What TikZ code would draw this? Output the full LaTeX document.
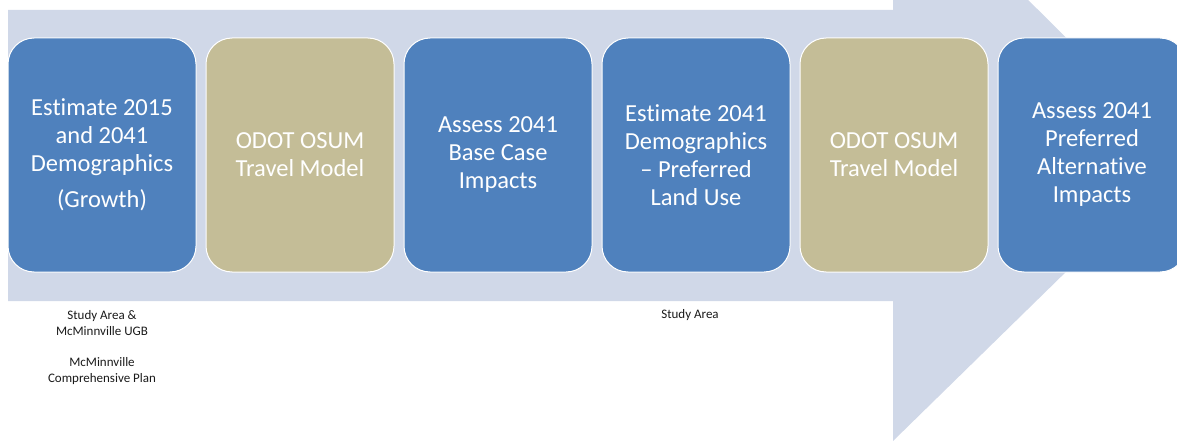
\documentclass[tikz,border=0pt]{standalone}
\usepackage{fontspec}
\setmainfont{Carlito}[Ligatures=NoCommon]
\definecolor{arrowbg}{HTML}{D0D8E8}
\definecolor{boxblue}{HTML}{4F81BD}
\definecolor{boxtan}{HTML}{C4BD97}
\definecolor{labelgray}{HTML}{1A1A1A}
\tikzset{
  stagebox/.style={rectangle, rounded corners=26pt, minimum width=188pt, minimum height=234pt,
    inner sep=0pt, draw=white, line width=1pt, text=white, align=center,
    font=\fontsize{24.5}{28}\selectfont},
  bluebox/.style={stagebox, fill=boxblue},
  tanbox/.style={stagebox, fill=boxtan},
  note/.style={align=center, text=labelgray, font=\fontsize{13}{16}\selectfont, inner sep=0pt}
}
\begin{document}
\begin{tikzpicture}[x=1pt,y=-1pt]
\useasboundingbox (0,0) rectangle (1177,441);
\clip (0,0) rectangle (1177,441);
\fill[arrowbg] (8,10) -- (893,10) -- (893,-134) -- (1185,155.5) -- (893,441) -- (893,301) -- (8,301) -- cycle;
\node[bluebox] (b1) at (102,155) {Estimate 2015\\and 2041\\Demographics\\[8pt](Growth)};
\node[tanbox]  (b2) at (300,155) {ODOT OSUM\\Travel Model};
\node[bluebox] (b3) at (498,155) {Assess 2041\\Base Case\\Impacts};
\node[bluebox] (b4) at (696,155) {Estimate 2041\\Demographics\\– Preferred\\Land Use};
\node[tanbox]  (b5) at (894,155) {ODOT OSUM\\Travel Model};
\node[bluebox] (b6) at (1092,155) {Assess 2041\\Preferred\\Alternative\\Impacts};
\node[note] (n1) at (102,323) {Study Area \&\\McMinnville UGB};
\node[note] (n2) at (102,371) {McMinnville\\Comprehensive Plan};
\node[note] (n3) at (690,315) {Study Area};
\end{tikzpicture}
\end{document}
